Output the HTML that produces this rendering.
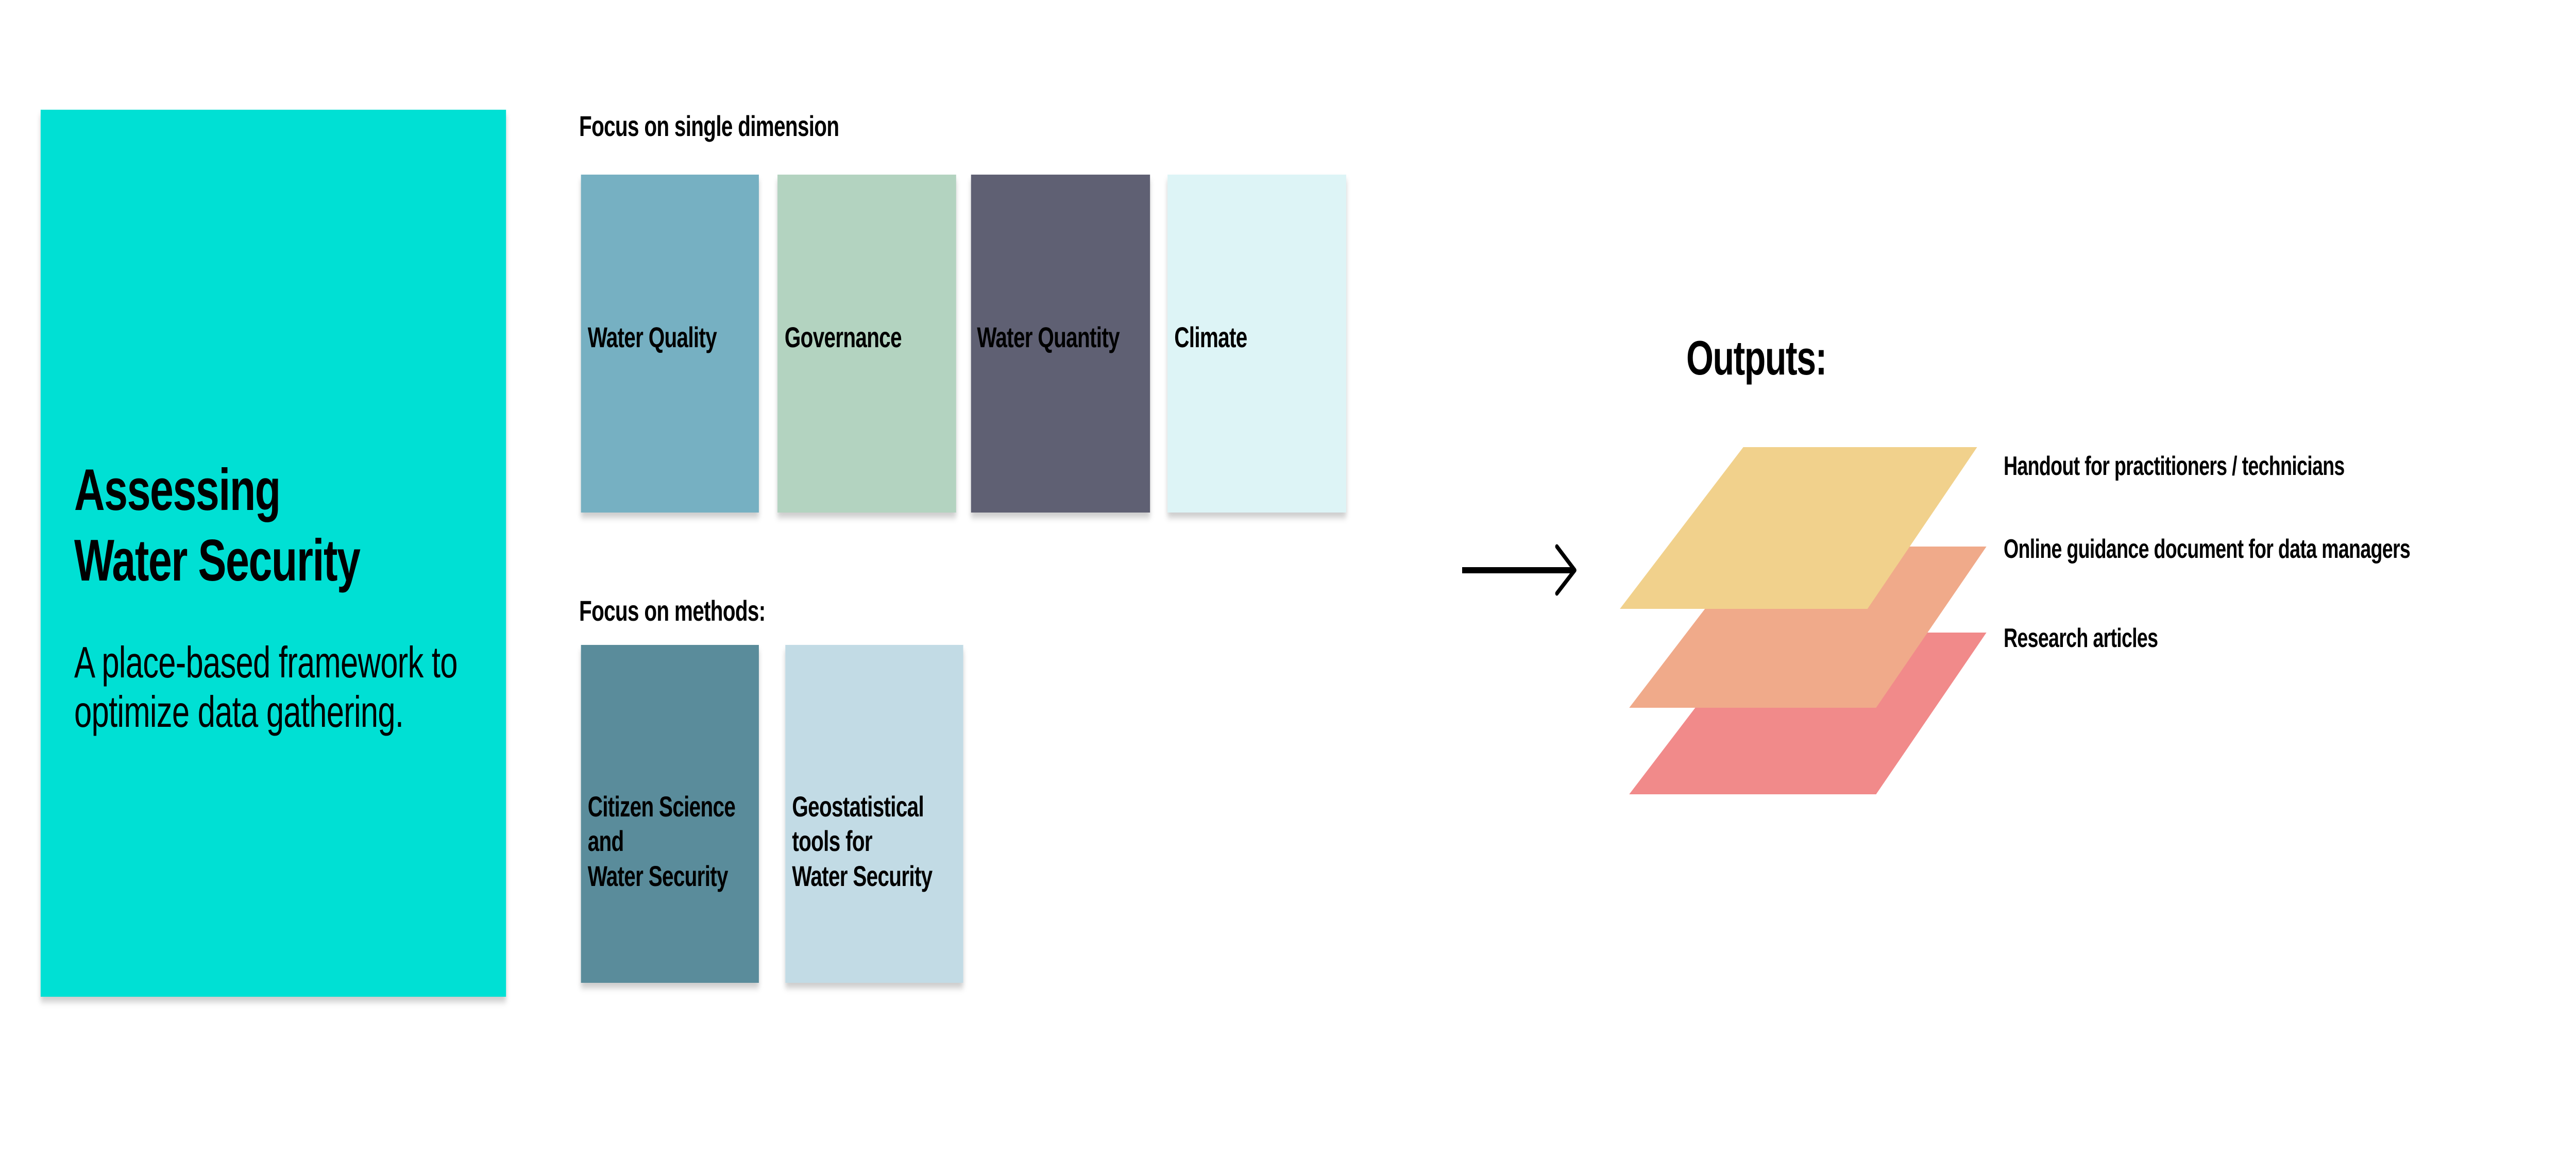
<!DOCTYPE html>
<html><head><meta charset="utf-8"><style>
html,body{margin:0;padding:0;background:#fff;overflow:hidden;}
svg{display:block;width:100vw;height:100vh;}
text{font-family:"Liberation Sans",Arial,sans-serif;fill:#000;}
.b{font-weight:bold;}
.l{font-weight:bold;font-size:56px;letter-spacing:-1px;}
.r{font-weight:bold;font-size:52px;letter-spacing:-1px;}
</style></head><body>
<svg viewBox="0 0 6908 2250" preserveAspectRatio="none" xmlns="http://www.w3.org/2000/svg">
<defs>
<filter id="sh" x="-10%" y="-10%" width="120%" height="120%">
<feDropShadow dx="0" dy="10" stdDeviation="6" flood-color="#000" flood-opacity="0.2"/>
</filter>
</defs>
<rect width="6908" height="2250" fill="#fff"/>
<rect x="109" y="213" width="1248" height="1722" fill="#00e0d4" filter="url(#sh)"/>
<text class="b" x="199" y="990" font-size="114" letter-spacing="-2">Assessing</text>
<text class="b" x="199" y="1127" font-size="114" letter-spacing="-2">Water Security</text>
<text x="199" y="1315" font-size="85" letter-spacing="-1">A place-based framework to</text>
<text x="199" y="1411" font-size="85" letter-spacing="-1">optimize data gathering.</text>

<text class="b" x="1553" y="264" font-size="56" letter-spacing="-1">Focus on single dimension</text>
<rect x="1558" y="339" width="477" height="656" fill="#76b0c2" filter="url(#sh)"/>
<rect x="2085" y="339" width="479" height="656" fill="#b3d3c0" filter="url(#sh)"/>
<rect x="2604" y="339" width="480" height="656" fill="#5f6073" filter="url(#sh)"/>
<rect x="3131" y="339" width="479" height="656" fill="#ddf4f6" filter="url(#sh)"/>
<text class="l" x="1576" y="674">Water Quality</text>
<text class="l" x="2104" y="674">Governance</text>
<text class="l" x="2620" y="674">Water Quantity</text>
<text class="l" x="3149" y="674">Climate</text>

<text class="b" x="1553" y="1205" font-size="56" letter-spacing="-1">Focus on methods:</text>
<rect x="1558" y="1252" width="477" height="656" fill="#5a8c9b" filter="url(#sh)"/>
<rect x="2106" y="1252" width="477" height="656" fill="#c2dbe5" filter="url(#sh)"/>
<text class="l" x="1576" y="1585">Citizen Science</text>
<text class="l" x="1576" y="1652">and</text>
<text class="l" x="1576" y="1720">Water Security</text>
<text class="l" x="2124" y="1585">Geostatistical</text>
<text class="l" x="2124" y="1652">tools for</text>
<text class="l" x="2124" y="1720">Water Security</text>

<line x1="3921" y1="1107" x2="4220" y2="1107" stroke="#000" stroke-width="12"/>
<polyline points="4175,1061 4223,1107 4175,1152" fill="none" stroke="#000" stroke-width="9" stroke-linecap="round" stroke-linejoin="round"/>
<polygon points="4700,1228 5327,1228 5031,1542 4369,1542" fill="#f18a8a"/>
<polygon points="4700,1061 5327,1061 5031,1374 4369,1374" fill="#f0aa8a"/>
<polygon points="4675,868 5302,868 5008,1182 4344,1182" fill="#f1d18c"/>
<text class="b" x="4522" y="727" font-size="94" letter-spacing="-2">Outputs:</text>
<text class="r" x="5373" y="922">Handout for practitioners / technicians</text>
<text class="r" x="5373" y="1083">Online guidance document for data managers</text>
<text class="r" x="5373" y="1256">Research articles</text>
</svg>
</body></html>
